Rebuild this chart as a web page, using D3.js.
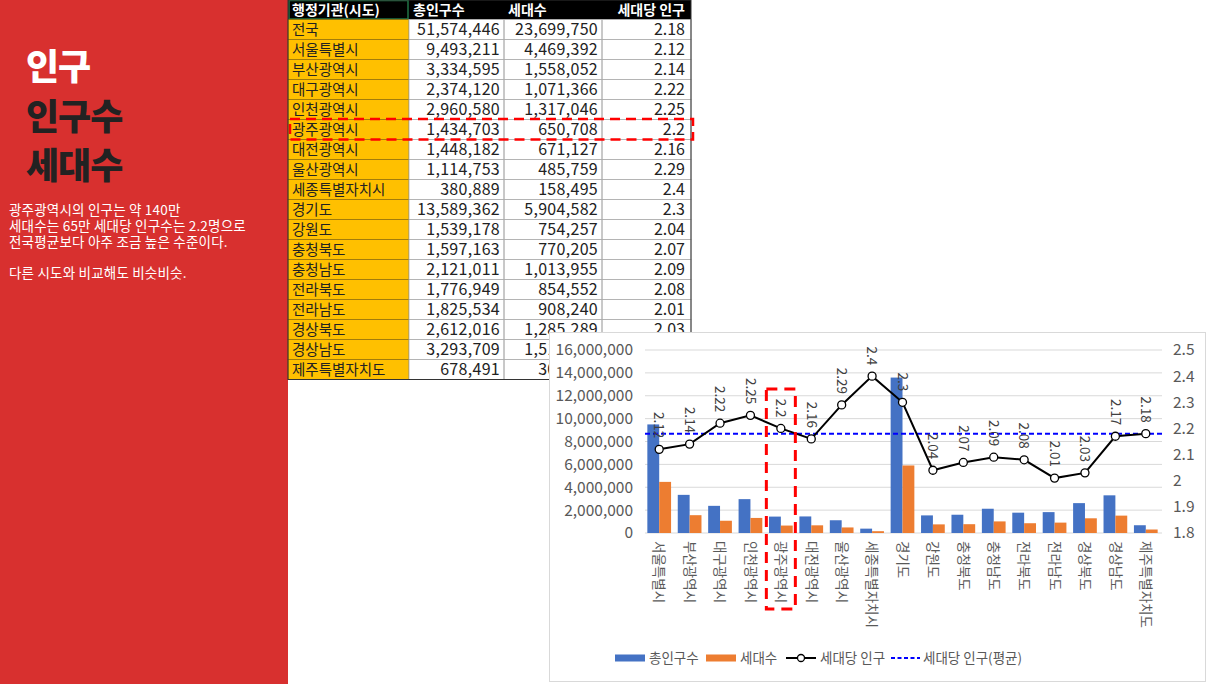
<!DOCTYPE html>
<html>
<head>
<meta charset="utf-8">
<script src="https://cdn.jsdelivr.net/npm/d3@7"></script>
<style>
  html, body { margin: 0; padding: 0; background: #fff; }
  svg { display: block; font-family: "Noto Sans CJK KR", "Noto Sans", sans-serif; }
</style>
</head>
<body>
<svg width="1216" height="684"></svg>
<script>
// table data (행정기관 / 총인구수 / 세대수 / 세대당 인구)
const regions = ["전국", "서울특별시", "부산광역시", "대구광역시", "인천광역시", "광주광역시", "대전광역시", "울산광역시", "세종특별자치시", "경기도", "강원도", "충청북도", "충청남도", "전라북도", "전라남도", "경상북도", "경상남도", "제주특별자치도"];
const population = [51574446, 9493211, 3334595, 2374120, 2960580, 1434703, 1448182, 1114753, 380889, 13589362, 1539178, 1597163, 2121011, 1776949, 1825534, 2612016, 3293709, 678491];
const households = [23699750, 4469392, 1558052, 1071366, 1317046, 650708, 671127, 485759, 158495, 5904582, 754257, 770205, 1013955, 854552, 908240, 1285289, 1519000, 305000];
const perHousehold = [2.18, 2.12, 2.14, 2.22, 2.25, 2.2, 2.16, 2.29, 2.4, 2.3, 2.04, 2.07, 2.09, 2.08, 2.01, 2.03, 2.17, 2.18];
const headers = ["행정기관(시도)", "총인구수", "세대수", "세대당 인구"];
const leftTicks = [0, 2000000, 4000000, 6000000, 8000000, 10000000, 12000000, 14000000, 16000000];
const rightTicks = [1.8, 1.9, 2.0, 2.1, 2.2, 2.3, 2.4, 2.5];
const legendItems = ["총인구수", "세대수", "세대당 인구", "세대당 인구(평균)"];
const bodyLines = ["광주광역시의 인구는 약 140만", "세대수는 65만 세대당 인구수는 2.2명으로", "전국평균보다 아주 조금 높은 수준이다.", "", "다른 시도와 비교해도 비슷비슷."];

const svg = d3.select("svg");
const fmt = d3.format(",");

// ---- left red panel ----
svg.append("rect").attr("x", 0).attr("y", 0).attr("width", 288).attr("height", 684).attr("fill", "#d8302f");
const titles = [["인구", "#ffffff", 80], ["인구수", "#222222", 130], ["세대수", "#222222", 179]];
svg.selectAll(".title").data(titles).join("text")
  .attr("class", "title")
  .attr("x", 26).attr("y", d => d[2])
  .attr("fill", d => d[1])
  .attr("font-size", 36).attr("font-weight", 900)
  .attr("letter-spacing", -1)
  .text(d => d[0]);
svg.selectAll(".body").data(bodyLines).join("text")
  .attr("class", "body")
  .attr("x", 9).attr("y", (d, i) => 215 + i * 15.8)
  .attr("fill", "#ffffff").attr("font-size", 13.5)
  .attr("letter-spacing", 0.2)
  .text(d => d);

// ---- table ----
const colX = [288, 409, 504, 602, 691];
const rowH = 20, headH = 19.5;
const table = svg.append("g");
table.append("rect").attr("x", colX[0]).attr("y", 0).attr("width", colX[4] - colX[0]).attr("height", headH).attr("fill", "#000");
table.append("rect").attr("x", colX[0] + 1).attr("y", 0.5).attr("width", colX[1] - colX[0] - 2).attr("height", headH - 1)
  .attr("fill", "none").attr("stroke", "#217346").attr("stroke-width", 1.5);
table.selectAll(".hd").data(headers).join("text")
  .attr("class", "hd")
  .attr("x", (d, i) => i === 3 ? colX[4] - 6 : colX[i] + 4)
  .attr("y", 15)
  .attr("text-anchor", (d, i) => i === 3 ? "end" : "start")
  .attr("fill", "#fff").attr("font-size", 14).attr("font-weight", 700)
  .text(d => d);

const rows = table.selectAll(".row").data(regions).join("g")
  .attr("class", "row")
  .attr("transform", (d, i) => `translate(0,${headH + i * rowH})`);
rows.append("rect").attr("x", colX[0]).attr("width", colX[1] - colX[0]).attr("height", rowH)
  .attr("fill", "#ffc000").attr("stroke", "#7f6000").attr("stroke-width", 0.6);
rows.append("rect").attr("x", colX[1]).attr("width", colX[4] - colX[1]).attr("height", rowH)
  .attr("fill", "#fff");
[1, 2, 3].forEach(c => {
  rows.append("rect").attr("x", colX[c]).attr("width", colX[c + 1] - colX[c]).attr("height", rowH)
    .attr("fill", "none").attr("stroke", "#aaaaaa").attr("stroke-width", 0.8);
});
rows.append("text").attr("x", colX[0] + 4).attr("y", 15).attr("font-size", 14.5).attr("fill", "#222").text(d => d);
rows.append("text").attr("x", colX[2] - 4).attr("y", 15.5).attr("text-anchor", "end").attr("font-size", 16).attr("fill", "#222")
  .attr("letter-spacing", 0.3)
  .text((d, i) => fmt(population[i]));
rows.append("text").attr("x", colX[3] - 4).attr("y", 15.5).attr("text-anchor", "end").attr("font-size", 16).attr("fill", "#222")
  .attr("letter-spacing", 0.3)
  .text((d, i) => fmt(households[i]));
rows.append("text").attr("x", colX[4] - 6).attr("y", 15.5).attr("text-anchor", "end").attr("font-size", 16).attr("fill", "#222")
  .text((d, i) => perHousehold[i]);
table.append("rect").attr("x", colX[0]).attr("y", 0).attr("width", colX[4] - colX[0]).attr("height", headH + regions.length * rowH)
  .attr("fill", "none").attr("stroke", "#333").attr("stroke-width", 1);

// highlight 광주 row
const gwangju = regions.indexOf("광주광역시");
table.append("rect")
  .attr("x", colX[0] + 2).attr("y", headH + gwangju * rowH - 0.5)
  .attr("width", colX[4] - colX[0]).attr("height", rowH + 0.5)
  .attr("fill", "none").attr("stroke", "#ff0000").attr("stroke-width", 2.5).attr("stroke-dasharray", "10,6");

// ---- chart ----
const names = regions.slice(1);
const popS = population.slice(1), hhS = households.slice(1), perS = perHousehold.slice(1);
const avg = perHousehold[0];

svg.append("rect").attr("x", 549.5).attr("y", 332.5).attr("width", 656).attr("height", 349)
  .attr("fill", "#fff").attr("stroke", "#d9d9d9");

const x = d3.scaleBand().domain(names).range([644, 1161]);
const yL = d3.scaleLinear().domain([0, 16000000]).range([533, 350]);
const yR = d3.scaleLinear().domain([1.8, 2.5]).range([533, 350]);
const bw = x.bandwidth() * 0.39;
const cx = d => x(d) + x.bandwidth() / 2;

const chart = svg.append("g");
chart.selectAll(".grid").data(leftTicks).join("line")
  .attr("x1", 645).attr("x2", 1162)
  .attr("y1", d => yL(d)).attr("y2", d => yL(d))
  .attr("stroke", "#d9d9d9").attr("stroke-width", 1);

const axL = d3.axisLeft(yL).tickValues(leftTicks).tickFormat(fmt).tickSize(0).tickPadding(12);
chart.append("g").attr("transform", "translate(645,0)").call(axL)
  .call(g => g.select(".domain").remove())
  .selectAll("text").attr("font-size", 15.5).attr("fill", "#595959").attr("font-family", "Noto Sans CJK KR");
const axR = d3.axisRight(yR).tickValues(rightTicks).tickFormat(d => String(+d.toFixed(1))).tickSize(0).tickPadding(11);
chart.append("g").attr("transform", "translate(1162,0)").call(axR)
  .call(g => g.select(".domain").remove())
  .selectAll("text").attr("font-size", 15.5).attr("fill", "#595959").attr("font-family", "Noto Sans CJK KR");

chart.selectAll(".bp").data(names).join("rect")
  .attr("class", "bp")
  .attr("x", d => cx(d) - bw).attr("width", bw)
  .attr("y", (d, i) => yL(popS[i])).attr("height", (d, i) => yL(0) - yL(popS[i]))
  .attr("fill", "#4472c4");
chart.selectAll(".bh").data(names).join("rect")
  .attr("class", "bh")
  .attr("x", d => cx(d)).attr("width", bw)
  .attr("y", (d, i) => yL(hhS[i])).attr("height", (d, i) => yL(0) - yL(hhS[i]))
  .attr("fill", "#ed7d31");

chart.append("line").attr("x1", 645).attr("x2", 1162).attr("y1", yR(avg)).attr("y2", yR(avg))
  .attr("stroke", "#0000ff").attr("stroke-width", 2).attr("stroke-dasharray", "5,3");

const line = d3.line().x((d, i) => cx(names[i])).y(d => yR(d));
chart.append("path").datum(perS).attr("d", line)
  .attr("fill", "none").attr("stroke", "#000").attr("stroke-width", 2);
chart.selectAll(".pt").data(perS).join("circle")
  .attr("class", "pt")
  .attr("cx", (d, i) => cx(names[i])).attr("cy", d => yR(d)).attr("r", 4)
  .attr("fill", "#fff").attr("stroke", "#000").attr("stroke-width", 1.3);
chart.selectAll(".pl").data(perS).join("text")
  .attr("class", "pl")
  .attr("transform", (d, i) => `translate(${cx(names[i])},${yR(d) - 11}) rotate(90)`)
  .attr("text-anchor", "end").attr("dy", "0.35em")
  .attr("font-size", 13.5).attr("fill", "#404040")
  .text(d => d);

chart.selectAll(".xl").data(names).join("text")
  .attr("class", "xl")
  .attr("transform", d => `translate(${cx(d)},541) rotate(90)`)
  .attr("dy", "0.35em")
  .attr("font-size", 13.5).attr("fill", "#595959")
  .text(d => d);

// 광주 highlight in chart
chart.append("rect")
  .attr("x", cx("광주광역시") - 14.5).attr("y", 389).attr("width", 29).attr("height", 220)
  .attr("fill", "none").attr("stroke", "#ff0000").attr("stroke-width", 3).attr("stroke-dasharray", "11,7");

// legend
const legend = chart.append("g").attr("transform", "translate(0,658)");
const legX = [615, 706, 786, 891];
legend.append("rect").attr("x", legX[0]).attr("y", -3.5).attr("width", 30).attr("height", 7).attr("fill", "#4472c4");
legend.append("rect").attr("x", legX[1]).attr("y", -3.5).attr("width", 30).attr("height", 7).attr("fill", "#ed7d31");
legend.append("line").attr("x1", legX[2]).attr("x2", legX[2] + 30).attr("stroke", "#000").attr("stroke-width", 2);
legend.append("circle").attr("cx", legX[2] + 15).attr("r", 3.5).attr("fill", "#fff").attr("stroke", "#000").attr("stroke-width", 1.3);
legend.append("line").attr("x1", legX[3]).attr("x2", legX[3] + 29).attr("stroke", "#0000ff").attr("stroke-width", 2).attr("stroke-dasharray", "4,2.5");
legend.selectAll(".lt").data(legendItems).join("text")
  .attr("class", "lt")
  .attr("x", (d, i) => legX[i] + (i === 3 ? 32 : 34))
  .attr("dy", "0.35em").attr("font-size", 13.5).attr("fill", "#595959")
  .text(d => d);
</script>
</body>
</html>
